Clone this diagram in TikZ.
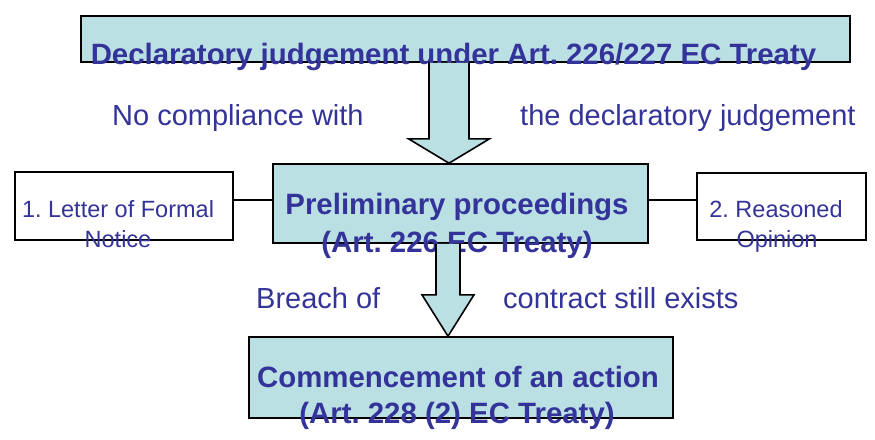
\documentclass[tikz,border=0pt]{standalone}
\usepackage{fontspec}
\setmainfont{Liberation Sans}
\usepackage{tikz}
\usetikzlibrary{calc}
\frenchspacing

\definecolor{boxblue}{RGB}{187,224,227}
\definecolor{textblue}{RGB}{51,51,153}

\begin{document}
\begin{tikzpicture}[x=1pt,y=-1pt,stagebox/.style={draw=black,line width=1.6pt,fill=boxblue,inner sep=0pt},notebox/.style={draw=black,line width=1.6pt,fill=white,inner sep=0pt},link/.style={draw=black,line width=1.5pt},bigtext/.style={text=textblue,font=\bfseries\fontsize{29.4}{35}\selectfont,inner sep=0pt,anchor=base},plaintext/.style={text=textblue,font=\fontsize{29}{35}\selectfont,inner sep=0pt,anchor=base west},smalltext/.style={text=textblue,font=\fontsize{23.5}{28}\selectfont,inner sep=0pt,anchor=base},arrowbox/.style={draw=black,line width=1.6pt,fill=boxblue,line join=miter}]
    \useasboundingbox (0,0) rectangle (875,439);
    \node[stagebox,minimum width=769pt,minimum height=46pt] (decl) at (465.5,39) {};
    \node[stagebox,minimum width=375pt,minimum height=79pt] (prelim) at (460.5,203.5) {};
    \node[notebox,minimum width=218pt,minimum height=68pt] (lnotice) at (124,206) {};
    \node[notebox,minimum width=169pt,minimum height=67pt] (ropinion) at (781.5,206.5) {};
    \node[stagebox,minimum width=424pt,minimum height=81pt] (action) at (461,377.5) {};
    \coordinate (linkL) at ([yshift=6pt]lnotice.east);
    \coordinate (linkR) at ([yshift=6.5pt]ropinion.west);
    \draw[link] (linkL) -- (linkL -| prelim.west);
    \draw[link] (linkR) -- (linkR -| prelim.east);
    \node[bigtext] (decltext) at (453.5,64.5) {Declaratory judgement under Art. 226/227 EC Treaty};
    \node[plaintext] (nocomp) at (112,125) {No compliance with};
    \node[plaintext] (thedecl) at (520,125) {the declaratory judgement};
    \node[bigtext] (prelimA) at (457,214) {Preliminary proceedings};
    \node[bigtext] (prelimB) at (457,252) {(Art. 226 EC Treaty)};
    \node[smalltext] (lnoticeA) at (118,217) {1. Letter of Formal};
    \node[smalltext] (lnoticeB) at (118,247) {Notice};
    \node[smalltext] (ropinionA) at (776,217) {2. Reasoned};
    \node[smalltext] (ropinionB) at (777,247) {Opinion};
    \node[plaintext] (breach) at (256,308) {Breach of};
    \node[plaintext] (still) at (503,308) {contract still exists};
    \node[bigtext] (actionA) at (458,387) {Commencement of an action};
    \node[bigtext] (actionB) at (457,423) {(Art. 228 (2) EC Treaty)};
    \coordinate (a1x) at (449,0);
    \coordinate (a2x) at (448,0);
    \coordinate (a1top) at (a1x |- decl.south);
    \coordinate (a1tip) at (a1x |- prelim.north);
    \coordinate (a2top) at (a2x |- prelim.south);
    \coordinate (a2tip) at (a2x |- action.north);
    \filldraw[arrowbox] ($(a1top)+(-20,0)$) -- ($(a1top)+(-20,76)$) -- ($(a1top)+(-40.5,76)$) -- (a1tip) -- ($(a1top)+(40.5,76)$) -- ($(a1top)+(20,76)$) -- ($(a1top)+(20,0)$);
    \filldraw[arrowbox] ($(a2top)+(-12,0)$) -- ($(a2top)+(-12,51)$) -- ($(a2top)+(-26,51)$) -- (a2tip) -- ($(a2top)+(26,51)$) -- ($(a2top)+(12,51)$) -- ($(a2top)+(12,0)$);
\end{tikzpicture}
\end{document}
